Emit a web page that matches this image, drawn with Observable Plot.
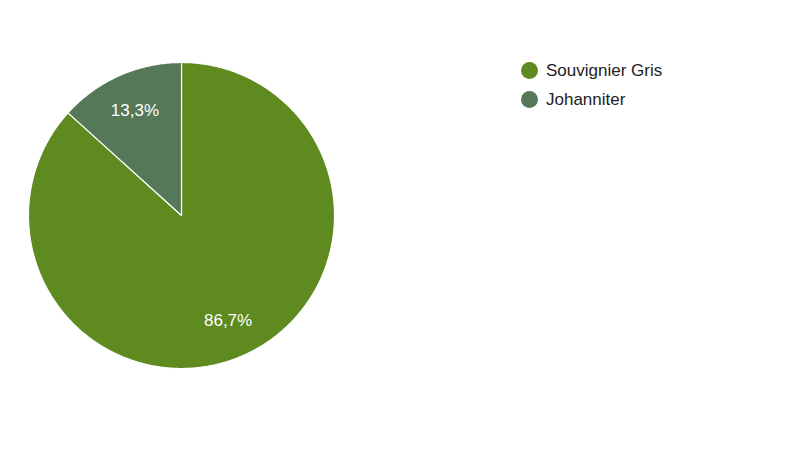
<!DOCTYPE html>
<html>
<head>
<meta charset="utf-8">
<script src="https://cdn.jsdelivr.net/npm/d3@7"></script>
<script src="https://cdn.jsdelivr.net/npm/@observablehq/plot@0.6"></script>
<style>
  html, body { margin: 0; padding: 0; background: #fff; }
  #wrap { position: relative; width: 800px; height: 450px; }
  #legend { position: absolute; left: 521px; top: 56px; font-family: Arial, "Liberation Sans", sans-serif; font-size: 17px; color: #222; }
  .item { display: flex; align-items: center; height: 29px; }
  .sw { width: 17px; height: 17px; border-radius: 50%; margin-right: 8px; }
</style>
</head>
<body>
<div id="wrap"></div>
<script>
const categories = ["Souvignier Gris", "Johanniter"];
const values = [86.7, 13.3];
const labels = ["86,7%", "13,3%"];
const colors = ["#5e8a20", "#557858"];

const total = d3.sum(values);
const arcs = [];
let start = 0;
categories.forEach((c, i) => {
  const a0 = start, a1 = start + values[i] / total * 2 * Math.PI;
  start = a1;
  arcs.push({cat: c, a0, a1, label: labels[i], mid: (a0 + a1) / 2});
});
const pts = [];
for (const a of arcs) {
  pts.push({cat: a.cat, x: 0, y: 0});
  const n = Math.max(2, Math.ceil((a.a1 - a.a0) / 0.01));
  for (let k = 0; k <= n; k++) {
    const t = a.a0 + (a.a1 - a.a0) * k / n;
    pts.push({cat: a.cat, x: Math.sin(t), y: Math.cos(t)});
  }
  pts.push({cat: a.cat, x: 0, y: 0});
}
const lab = arcs.map(a => ({label: a.label, x: 0.75 * Math.sin(a.mid), y: 0.75 * Math.cos(a.mid)}));

const chart = Plot.plot({
  width: 800,
  height: 450,
  margin: 0,
  style: {background: "#fff"},
  x: {domain: [-1, 1], range: [28, 334], axis: null},
  y: {domain: [-1, 1], range: [368, 62], axis: null},
  color: {domain: categories, range: colors},
  marks: [
    Plot.line(pts, {x: "x", y: "y", z: "cat", fill: "cat", stroke: "#fff", strokeWidth: 1.2, curve: "linear"}),
    Plot.text(lab, {x: "x", y: "y", text: "label", fill: "#fff", fontSize: 17, fontFamily: "Arial, 'Liberation Sans', sans-serif"})
  ]
});
const wrap = document.getElementById("wrap");
wrap.appendChild(chart);

const legend = document.createElement("div");
legend.id = "legend";
categories.forEach((c, i) => {
  const it = document.createElement("div");
  it.className = "item";
  const sw = document.createElement("span");
  sw.className = "sw";
  sw.style.background = colors[i];
  const tx = document.createElement("span");
  tx.textContent = c;
  it.appendChild(sw); it.appendChild(tx);
  legend.appendChild(it);
});
wrap.appendChild(legend);
</script>
</body>
</html>
